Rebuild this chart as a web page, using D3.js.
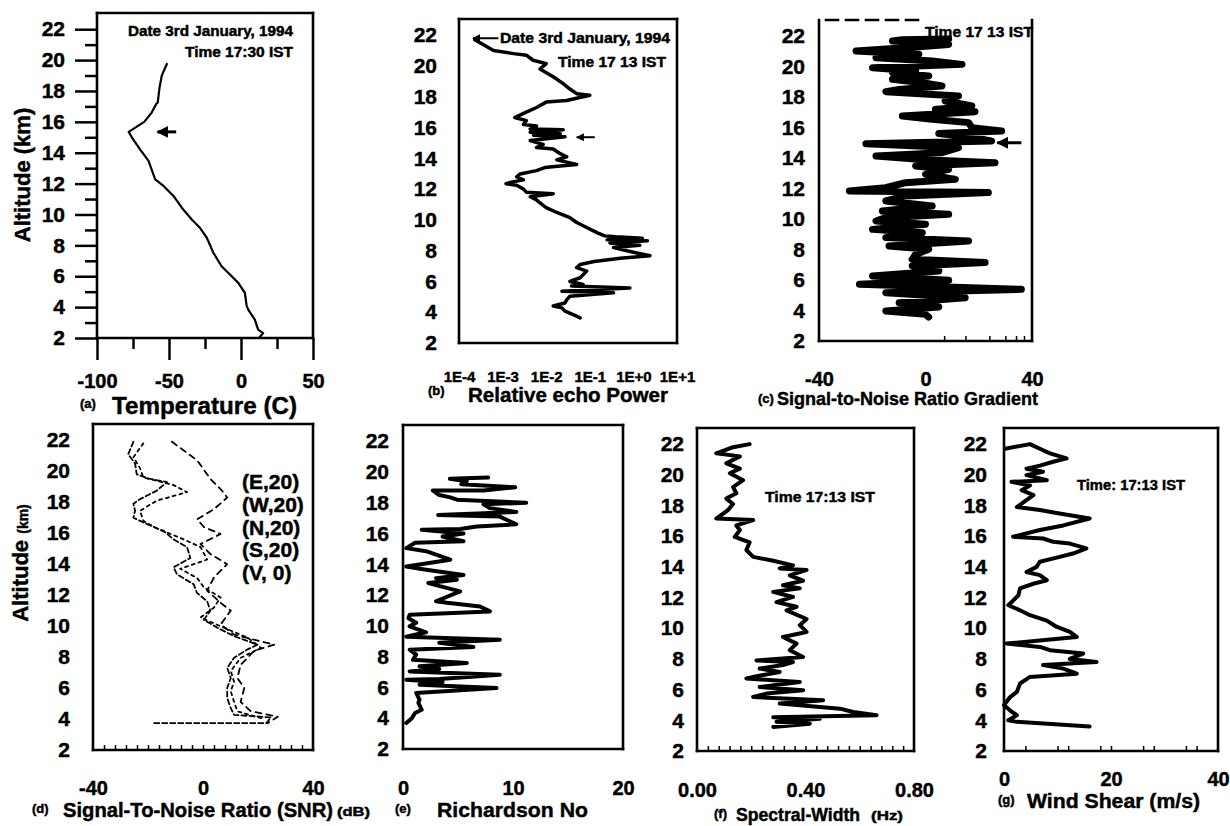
<!DOCTYPE html>
<html>
<head>
<meta charset="utf-8">
<script src="https://cdn.jsdelivr.net/npm/d3@7"></script>
<style>
  body { margin: 0; background: #fff; }
  text { font-family: "Liberation Sans", Arial, Helvetica, sans-serif; font-weight: bold; fill: #000;
         stroke: #000; stroke-width: 0.45px; }
</style>
</head>
<body>
<svg id="fig" width="1230" height="826"></svg>
<script>
// ---- data (altitude in km) ----
var altTicks = [2, 4, 6, 8, 10, 12, 14, 16, 18, 20, 22];

// (a) temperature profile
var aAlt = [19.75, 19.0, 18.2, 17.26, 17.15, 16.6, 16.0, 15.35, 15.0, 14.2, 13.47, 12.28, 11.85, 11.2, 10.44, 9.68, 9.14, 8.5, 7.52, 6.65, 6.11, 5.57, 4.92, 4.1, 3.84, 3.19, 2.54, 2.32, 2.06];
var aTemp = [-51.5, -55, -56.6, -57.8, -58.9, -62, -67.2, -78, -75.8, -70, -64.2, -59.6, -53.8, -46.9, -41.1, -34.2, -28.5, -23.8, -19.2, -13.5, -7.7, -1.9, 2.7, 3.9, 5.0, 9.6, 11.9, 15.4, 13.1];
var aTicks = [-100, -50, 0, 50];

// (b) relative echo power
var bAlt = [21.7, 21.0, 20.8, 20.7, 20.37, 20.15, 19.8, 19.3, 18.85, 18.5, 18.2, 18.1, 17.75, 17.65, 17.3, 17.0, 16.8, 16.65, 16.45, 16.2, 16.1, 15.9, 15.85, 15.7, 15.6, 15.5, 15.4, 15.15, 14.9, 14.7, 14.6, 14.3, 14.1, 13.9, 13.6, 13.5, 13.4, 13.2, 12.98, 12.8, 12.6, 12.45, 12.35, 12.25, 12.0, 11.8, 11.7, 11.5, 11.3, 11.1, 10.8, 10.48, 10.15, 9.83, 9.5, 9.17, 8.96, 8.9, 8.8, 8.7, 8.64, 8.5, 8.35, 8.2, 7.9, 7.67, 7.5, 7.3, 7.1, 6.9, 6.67, 6.24, 6.0, 5.8, 5.7, 5.58, 5.37, 5.26, 5.04, 4.83, 4.6, 4.4, 4.28, 4.07, 3.74, 3.63];
var bPow = [2.3e-4, 6.2e-4, 1.8e-3, 3.5e-3, 5.0e-3, 1.0e-2, 7.2e-3, 1.45e-2, 2.45e-2, 3.5e-2, 5.0e-2, 0.1, 2.95e-2, 1.0e-2, 6.0e-3, 3.5e-3, 2.5e-3, 1.9e-3, 3.5e-3, 3.0e-3, 6.0e-3, 4.3e-3, 2.45e-2, 4.3e-3, 2.1e-2, 5.1e-3, 2.7e-2, 4.3e-3, 8.5e-3, 6.0e-3, 1.45e-2, 2.1e-2, 2.95e-2, 1.75e-2, 5.0e-2, 2.1e-2, 9.3e-3, 6.0e-3, 2.5e-3, 2.1e-3, 3.0e-3, 1.6e-3, 1.2e-3, 2.1e-3, 3.0e-3, 3.5e-3, 1.45e-2, 4.3e-3, 6.0e-3, 7.2e-3, 1.0e-2, 1.75e-2, 3.5e-2, 5.0e-2, 8.5e-2, 0.145, 0.22, 0.4, 1.6, 0.25, 2.1, 0.29, 1.4, 0.35, 1.0, 2.4, 0.5, 0.126, 0.06, 0.05, 0.085, 0.06, 0.035, 0.07, 0.038, 0.83, 0.023, 0.35, 0.035, 0.03, 0.027, 0.0145, 0.023, 0.027, 0.05, 0.06];
var bTicks = [1e-4, 1e-3, 1e-2, 1e-1, 1e0, 1e1];
var bTickText = ["1E-4", "1E-3", "1E-2", "1E-1", "1E+0", "1E+1"];

// (c) SNR gradient
var cAlt = [21.8, 21.75, 21.67, 21.45, 21.23, 21.02, 20.8, 20.58, 20.36, 20.14, 19.92, 19.7, 19.6, 19.38, 19.16, 18.94, 18.72, 18.5, 18.35, 18.07, 17.74, 17.41, 17.19, 17.04, 16.75, 16.54, 16.32, 15.99, 15.77, 15.6, 15.33, 15.11, 14.94, 14.68, 14.35, 14.13, 13.91, 13.69, 13.48, 13.26, 12.93, 12.6, 12.38, 12.05, 11.84, 11.73, 11.51, 11.18, 10.85, 10.52, 10.31, 10.09, 9.87, 9.65, 9.32, 9.1, 8.78, 8.56, 8.23, 8.01, 7.68, 7.36, 7.14, 6.92, 6.59, 6.26, 5.98, 5.72, 5.39, 5.17, 4.84, 4.51, 4.23, 3.97, 3.75, 3.57];
var cVal = [8.7, -8.7, -12.4, 8.7, -7.5, -26.1, -2.5, -18.6, 2.5, 13.7, -19.9, -3.7, -12.4, 1.2, -12.4, -1.2, 6.2, -9.9, -14.9, 12.4, 7.4, 17.4, 3.7, 18.6, -8.7, 2.5, 16.2, 17.4, 28.6, 5.0, 18.6, 24.8, -22.4, 12.4, 6.2, -18.6, -2.5, 26.1, -3.7, 8.7, 0, 11.2, -7.5, -15, -28.6, 23.6, -7.5, -14.9, 2.5, -16.2, 8.7, -14.9, -18.6, 0, -19.9, -1.2, -14.9, 16.2, -13.7, 1.2, -3.7, -5.0, 22.4, -5, 5, -19.9, 8.7, -24.8, 36.0, -14.9, 14.9, -9.9, 5, -14.9, 0, 1.2];
var cTicks = [-40, 0, 40];
var cMinor = [7, 15, 24, 30, 34, 37];

// (d) SNR of the beams
var d1Alt = [21.9, 21.1, 20.5, 19.8, 19.5, 19.3, 18.75, 18.2, 17.9, 17.45, 17.0, 16.6, 16.15, 15.6, 15.1, 14.4, 13.8, 13.35, 12.7, 12.15, 11.6, 11.0, 10.4, 9.9, 9.35, 8.8, 8.5, 7.95, 7.3, 6.65, 6.0, 5.35, 4.7, 4.27, 4.1, 3.73, 3.73];
var d1Snr = [-25.3, -27.2, -24.7, -24.1, -19.2, -13.1, -16.8, -22.9, -25.3, -24.7, -25.3, -20.5, -14.4, -10.7, -5.8, -4.6, -10.7, -9.5, -3.4, -2.2, 1.5, 2.7, 0.3, 5.2, 11.3, 19.8, 16.2, 11.3, 8.8, 10.1, 8.8, 8.8, 10.1, 11.3, 24.7, 23, -18.0];
var d2Alt = [21.9, 20.7, 19.5, 18.85, 18.3, 17.55, 16.9, 16.4, 15.95, 15.3, 14.65, 14.0, 13.15, 12.3, 11.5, 11.0, 10.1, 9.45, 8.8, 8.4, 7.5, 6.65, 6.0, 5.1, 4.5, 4.15, 3.73];
var d2Snr = [-11.3, -2.1, 2.7, 6.4, 8.8, 4.0, -2.1, 0.3, 6.4, -0.9, 2.7, 8.8, 4.0, 1.5, 6.4, 10.1, 6.4, 11.3, 25.9, 18.6, 13.7, 12.5, 15.0, 13.7, 17.4, 27.2, 23.5];
var d3Alt = [21.8, 20.9, 20.2, 19.6, 19.1, 18.65, 18.1, 17.45, 16.8, 16.3, 15.7, 15.1, 14.3, 13.7, 13.1, 12.5, 11.85, 11.2, 10.55, 9.9, 9.25, 8.6, 7.95, 7.1, 6.4, 5.8, 5.1, 4.5, 4.05];
var d3Snr = [-21.7, -25.3, -22.9, -21.7, -10.7, -5.8, -16.8, -22.9, -21.7, -16.8, -8.3, -0.9, 1.5, -8.3, -2.1, 0.3, 6.4, 4.0, -0.9, 7.6, 16.2, 21.1, 13.7, 10.1, 11.3, 10.1, 11.3, 12.5, 21.1];
var dBeams = ["(E,20)", "(W,20)", "(N,20)", "(S,20)", "(V, 0)"];
var dTicks = [-40, 0, 40];
var dMinor = [-36, -32, -28, -24, -20, -16, -12, -8, -4, 0, 4, 8, 12, 16, 20, 24, 28, 32, 36];

// (e) Richardson number
var eAlt = [19.64, 19.55, 19.4, 19.2, 19.0, 18.8, 18.8, 18.5, 18.35, 18.2, 18.0, 17.9, 17.65, 17.4, 17.2, 17.1, 16.6, 16.45, 16.3, 16.25, 16.0, 15.8, 15.5, 15.4, 15.05, 14.85, 14.3, 13.86, 13.65, 13.3, 13.1, 13.0, 12.78, 12.24, 11.6, 11.5, 11.26, 10.94, 10.72, 10.5, 10.2, 9.97, 9.58, 9.3, 9.1, 8.9, 8.62, 8.45, 8.13, 7.8, 7.58, 7.37, 7.2, 7.04, 6.83, 6.55, 6.5, 6.33, 6.18, 5.96, 5.64, 5.2, 5.0, 4.55, 4.34, 4.0, 3.69];
var eRi = [7.75, 4.26, 5.8, 5.3, 10.2, 7.3, 2.7, 3.3, 4.3, 4.9, 11.2, 7.3, 7.9, 10.3, 3.2, 8.8, 10.3, 6.7, 5.2, 1.7, 5.5, 3.6, 5.5, 1.1, 0.3, 2.1, 4.3, 0.3, 2.1, 5.5, 3.0, 4.9, 2.3, 5.2, 3.0, 4.0, 7.0, 7.9, 0.6, 0.5, 1.2, 0.6, 2.1, 0.3, 8.8, 3.3, 6.4, 0.6, 1.2, 0.9, 5.8, 1.5, 3.3, 0.6, 8.8, 3.3, 0.3, 3.6, 1.5, 8.5, 1.2, 1.5, 1.4, 1.7, 1.1, 0.8, 0.3];
var eTicks = [0, 10, 20];

// (f) spectral width
var fAlt = [22.0, 21.8, 21.4, 21.2, 20.75, 20.4, 20.1, 19.65, 19.2, 18.8, 18.45, 18.1, 17.7, 17.15, 17.05, 16.7, 16.4, 15.95, 15.6, 15.1, 14.65, 14.4, 14.1, 13.9, 13.8, 13.45, 13.1, 12.8, 12.6, 12.37, 12.04, 11.7, 11.4, 11.17, 10.6, 10.2, 9.76, 9.43, 9.0, 8.57, 8.13, 7.9, 7.8, 7.6, 7.37, 7.15, 6.83, 6.72, 6.5, 6.17, 5.96, 5.74, 5.52, 5.3, 5.09, 4.76, 4.54, 4.33, 4.2, 4.1, 3.9, 3.78, 3.57];
var fSw = [0.194, 0.133, 0.071, 0.158, 0.108, 0.158, 0.121, 0.170, 0.133, 0.145, 0.108, 0.133, 0.114, 0.071, 0.207, 0.145, 0.158, 0.139, 0.194, 0.182, 0.207, 0.281, 0.354, 0.305, 0.404, 0.342, 0.391, 0.317, 0.379, 0.281, 0.354, 0.293, 0.367, 0.330, 0.404, 0.379, 0.404, 0.317, 0.367, 0.342, 0.391, 0.219, 0.354, 0.317, 0.231, 0.305, 0.207, 0.182, 0.379, 0.231, 0.391, 0.256, 0.207, 0.465, 0.305, 0.527, 0.576, 0.662, 0.281, 0.453, 0.293, 0.416, 0.281];
var fTicks = [0, 0.4, 0.8];
var fTickText = ["0.00", "0.40", "0.80"];
var fMinor = [0.04, 0.08, 0.12, 0.16, 0.2, 0.24, 0.28, 0.32, 0.36, 0.4, 0.44, 0.48, 0.52, 0.56, 0.6, 0.64, 0.68, 0.72, 0.76];

// (g) wind shear
var gAlt = [21.7, 22.0, 21.7, 21.4, 21.07, 20.85, 20.6, 20.4, 20.2, 19.98, 19.65, 19.54, 19.3, 19.0, 18.67, 18.35, 17.9, 17.7, 17.5, 17.15, 16.7, 16.4, 15.96, 15.85, 15.63, 15.52, 15.2, 14.87, 14.65, 14.33, 14.0, 13.67, 13.46, 13.13, 12.9, 12.6, 12.15, 11.8, 11.5, 11.17, 10.85, 10.5, 10.1, 9.76, 9.43, 9.0, 8.78, 8.57, 8.35, 8.0, 7.8, 7.6, 7.37, 7.04, 6.83, 6.4, 5.85, 5.5, 4.98, 4.65, 4.33, 4.0, 3.9, 3.6];
var gWs = [0.2, 4.85, 6.7, 8.6, 11.7, 9.2, 6.7, 4.2, 7.3, 4.2, 8.0, 1.4, 4.85, 3.3, 5.5, 4.2, 2.4, 6.7, 10.1, 16.0, 11.1, 6.7, 1.7, 7.3, 9.2, 12.3, 15.4, 12.9, 10.4, 6.7, 6.1, 4.2, 6.7, 8.0, 5.5, 3.0, 2.7, 1.7, 0.8, 3.0, 4.85, 8.0, 9.8, 12.3, 13.6, 0.5, 6.7, 8.6, 14.8, 12.3, 17.3, 7.3, 11.1, 13.6, 4.85, 3.0, 2.4, 1.1, 0.0, 1.1, 2.4, 0.8, 2.4, 16.0];
var gTicks = [0, 20, 40];
var gMinor = [4, 10, 12, 18, 20, 26, 28, 34, 36];

// ---- drawing ----
var svg = d3.select("#fig");

svg.append("defs").append("marker")
    .attr("id", "head")
    .attr("viewBox", "0 0 10 10")
    .attr("refX", 9).attr("refY", 5)
    .attr("markerWidth", 4).attr("markerHeight", 4)
    .attr("orient", "auto")
  .append("path")
    .attr("d", "M0,0L10,5L0,10z")
    .attr("fill", "#000");

function styleAxis(a, size) {
  a.select(".domain").remove();
  a.attr("font-family", null).attr("font-size", null);
  a.selectAll("text").style("font-size", size + "px");
  a.selectAll("line").attr("stroke", "#000").attr("stroke-width", 2.5);
}

// one panel: frame, altitude labels, x labels, returns the scales
function panel(o) {
  var g = svg.append("g");
  var x = (o.log ? d3.scaleLog() : d3.scaleLinear()).domain(o.xDom).range([o.left, o.right]);
  var y = d3.scaleLinear().domain([2, 23.05]).range([o.bottom, o.top]);

  var ya = g.append("g").attr("transform", "translate(" + o.left + ",0)")
      .call(d3.axisLeft(y).tickValues(altTicks).tickSize(o.yTick || 0).tickPadding(o.yPad));
  styleAxis(ya, 21);

  var fs = o.xFont || 20;
  var xa = g.append("g").attr("transform", "translate(0," + o.bottom + ")")
      .call(d3.axisBottom(x).tickValues(o.xTicks).tickSize(o.xTick || 0)
        .tickPadding(o.xBase - o.bottom - (o.xTick || 0) - 0.71 * fs)
        .tickFormat(function(d, i) { return o.xText ? o.xText[i] : d; }));
  styleAxis(xa, fs);

  if (o.minor) {
    var ma = g.append("g").attr("transform", "translate(0," + o.bottom + ")")
        .call(d3.axisBottom(x).tickValues(o.minor).tickSize(-5).tickFormat(""));
    styleAxis(ma, 10);
    ma.selectAll("line").attr("stroke-width", 1.5);
  }

  // frame; the top edge of (c) is only a broken line up to the caption
  var edges = [
    [o.left, o.top, o.left, o.bottom],
    [o.left, o.bottom, o.right, o.bottom],
    [o.right, o.bottom, o.right, o.top],
    [o.topEnd || o.right, o.top, o.left, o.top]
  ];
  g.selectAll("line.frame").data(edges).enter().append("line")
    .attr("class", "frame")
    .attr("x1", function(d) { return d[0]; }).attr("y1", function(d) { return d[1]; })
    .attr("x2", function(d) { return d[2]; }).attr("y2", function(d) { return d[3]; })
    .attr("stroke", "#000").attr("stroke-width", 2.6)
    .attr("stroke-linecap", "square")
    .attr("stroke-dasharray", function(d, i) { return (o.dashTop && i == 3) ? "12,8" : null; });

  return { g: g, x: x, y: y };
}

function profile(p, alt, val, w, dash) {
  var line = d3.line()
      .x(function(d) { return p.x(d[1]); })
      .y(function(d) { return p.y(d[0]); });
  p.g.append("path")
    .attr("d", line(d3.zip(alt, val)))
    .attr("fill", "none").attr("stroke", "#000")
    .attr("stroke-width", w)
    .attr("stroke-linejoin", "round").attr("stroke-linecap", "round")
    .attr("stroke-dasharray", dash || null);
}

function arrow(p, km, from, to, w) {
  p.g.append("line")
    .attr("x1", p.x(from)).attr("y1", p.y(km))
    .attr("x2", p.x(to)).attr("y2", p.y(km))
    .attr("stroke", "#000").attr("stroke-width", w)
    .attr("marker-end", "url(#head)");
}

function label(str, x, y, size, len) {
  var t = svg.append("text").attr("x", x).attr("y", y).style("font-size", size + "px").text(str);
  if (len) t.attr("textLength", len).attr("lengthAdjust", "spacingAndGlyphs");
  return t;
}

// (a)
var pa = panel({ left: 97, right: 313, top: 13, bottom: 338, xDom: [-100, 50], xTicks: aTicks,
                 xBase: 388, xTick: 22, yTick: 22, yPad: 10 });
var aMinorY = pa.g.append("g").attr("transform", "translate(97,0)")
    .call(d3.axisLeft(pa.y).tickValues([3, 5, 7, 9, 11, 13, 15, 17, 19, 21]).tickSize(12).tickFormat(""));
styleAxis(aMinorY, 10);
var aMinorX = pa.g.append("g").attr("transform", "translate(0,338)")
    .call(d3.axisBottom(pa.x).tickValues([-75, -25, 25]).tickSize(11).tickFormat(""));
styleAxis(aMinorX, 10);
profile(pa, aAlt, aTemp, 2.2);
arrow(pa, 15.35, -45, -58, 3);
label("Date 3rd January, 1994", 128, 36, 14, 165);
label("Time  17:30 IST", 185, 57, 14, 108);
svg.append("text").attr("transform", "translate(30,175) rotate(-90)")
  .attr("text-anchor", "middle").style("font-size", "22px").text("Altitude (km)");
label("(a)", 80, 408, 13);
label("Temperature (C)", 112, 414, 24, 185);

// (b)
var pb = panel({ left: 459, right: 677, top: 19, bottom: 343, log: true, xDom: [1e-4, 1e1],
                 xTicks: bTicks, xText: bTickText, xFont: 15, xBase: 382, yPad: 22 });
profile(pb, bAlt, bPow, 3.5);
arrow(pb, 21.8, 8e-4, 2.1e-4, 2);
arrow(pb, 15.37, 0.13, 0.05, 2);
label("Date  3rd January, 1994", 500, 43, 14, 170);
label("Time  17 13 IST", 558, 67, 14, 108);
label("(b)", 428, 395, 13);
label("Relative echo Power", 468, 402, 20, 200);

// (c)
var pc = panel({ left: 819, right: 1032, top: 20, bottom: 341, xDom: [-40, 40], xTicks: cTicks,
                 xBase: 386, yPad: 14, minor: cMinor, dashTop: true, topEnd: 918 });
profile(pc, cAlt, cVal, 7);
arrow(pc, 15.0, 36, 27, 3);
label("Time  17 13 IST", 925, 37, 14, 108);
label("(c)", 758, 403, 13);
label("Signal-to-Noise Ratio Gradient", 777, 405, 19, 261);

// (d)
var pd = panel({ left: 93, right: 313, top: 424, bottom: 750, xDom: [-40, 40], xTicks: dTicks,
                 xBase: 795, yPad: 23, minor: dMinor });
profile(pd, d1Alt, d1Snr, 1.8, "5,3");
profile(pd, d3Alt, d3Snr, 1.8, "3,4");
profile(pd, d2Alt, d2Snr, 1.8, "6,5");
pd.g.selectAll("text.beam").data(dBeams).enter().append("text")
  .attr("class", "beam")
  .attr("x", 242)
  .attr("y", function(d, i) { return 489 + i * 22.8; })
  .style("font-size", "21px")
  .text(function(d) { return d; });
var dy = svg.append("text").attr("transform", "translate(28,563) rotate(-90)")
  .attr("text-anchor", "middle").style("font-size", "22px");
dy.append("tspan").text("Altitude ");
dy.append("tspan").style("font-size", "14px").text("(km)");
label("(d)", 32, 813, 13);
label("Signal-To-Noise Ratio (SNR)", 63, 817, 20, 270);
label("(dB)", 337, 816, 13, 33);

// (e)
var pe = panel({ left: 403, right: 623, top: 425, bottom: 749, xDom: [0, 20], xTicks: eTicks,
                 xBase: 795, yPad: 14 });
profile(pe, eAlt, eRi, 4);
label("(e)", 395, 813, 13);
label("Richardson No", 437, 817, 21, 151);

// (f)
var pf = panel({ left: 697, right: 914, top: 428, bottom: 751, xDom: [0, 0.8], xTicks: fTicks,
                 xText: fTickText, xBase: 797, yPad: 13, minor: fMinor });
profile(pf, fAlt, fSw, 4);
label("Time  17:13 IST", 765, 502, 14, 110);
label("(f)", 714, 818, 13);
label("Spectral-Width", 736, 821, 18, 124);
label("(Hz)", 871, 820, 13, 32);

// (g)
var pg = panel({ left: 1004, right: 1218, top: 428, bottom: 751, xDom: [0, 40], xTicks: gTicks,
                 xBase: 786, yPad: 17, minor: gMinor });
profile(pg, gAlt, gWs, 4);
label("Time: 17:13 IST", 1077, 490, 14, 108);
label("(g)", 998, 804, 13);
label("Wind Shear (m/s)", 1027, 808, 20, 173);
</script>
</body>
</html>
